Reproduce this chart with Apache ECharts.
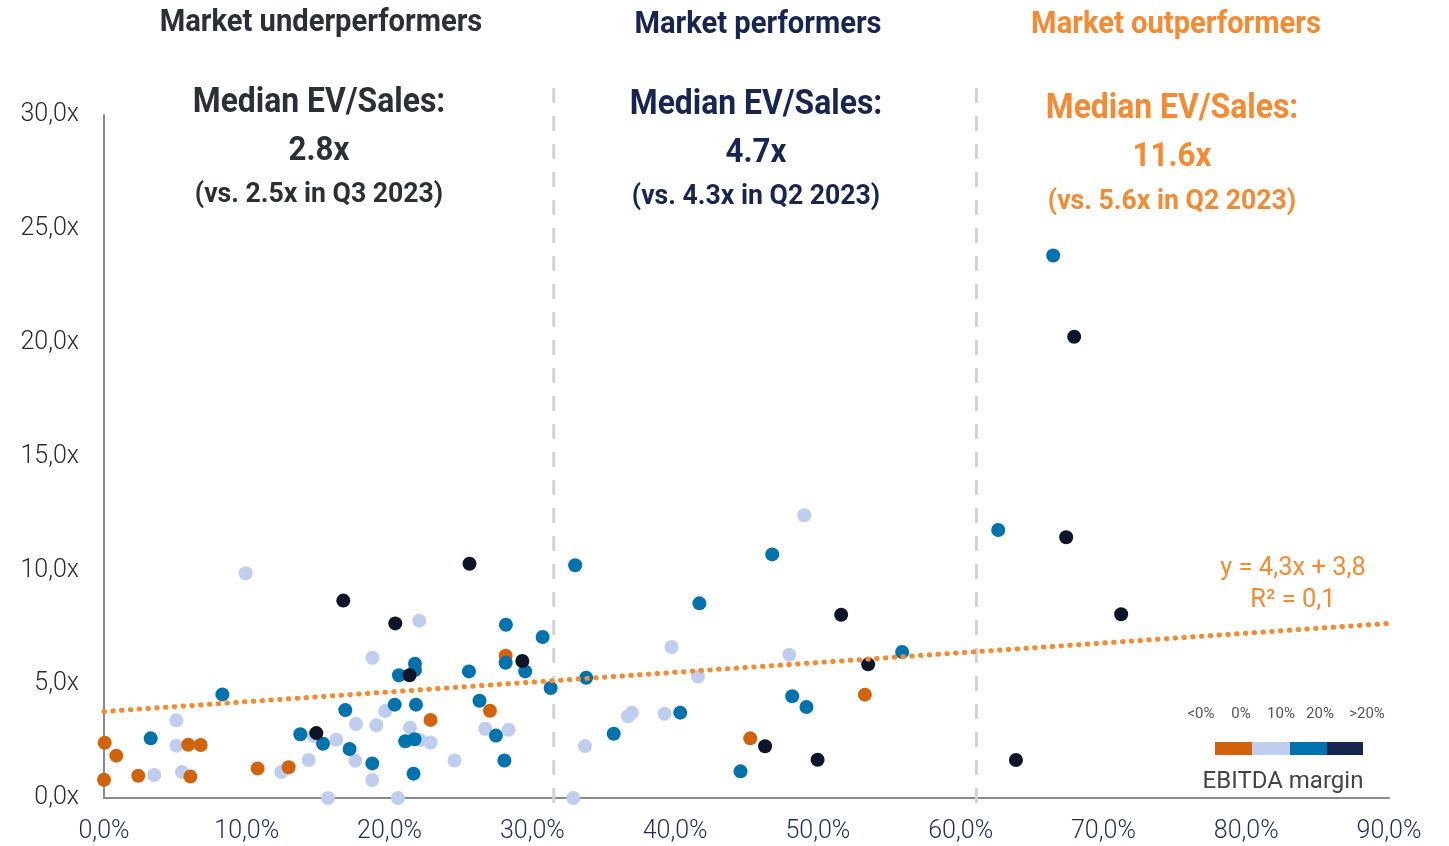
<!DOCTYPE html>
<html lang="en">
<head>
    <meta charset="UTF-8">
    <title>EV/Sales vs growth</title>
    <script src="https://cdn.jsdelivr.net/npm/echarts@6/dist/echarts.min.js"></script>
    <style>
        html, body { margin: 0; padding: 0; background: #fff; }
        #scatter { width: 1449px; height: 846px; }
    </style>
</head>
<body>
    <div id="scatter"></div>
    <script>
        // EBITDA margin groups: [growth %, EV/Sales x]
        var marginNeg = [[0.05,2.43],[0.86,1.86],[0,0.80],[2.4,0.98],[5.9,2.34],[6.77,2.33],[6.05,0.94],[10.76,1.30],[12.93,1.35],[22.87,3.43],[27.03,3.83],[28.13,6.25],[45.26,2.62],[53.29,4.54]];
        var marginLow = [[9.92,9.87],[18.8,6.16],[5.07,3.41],[19.7,3.82],[3.52,1.01],[5.07,2.30],[5.46,1.14],[12.42,1.14],[14.33,1.67],[14.7,2.72],[16.27,2.56],[17.65,3.25],[19.07,3.19],[17.6,1.64],[18.79,0.79],[15.69,0],[22.08,7.79],[21.43,3.09],[26.7,3.04],[28.34,3.00],[22.13,2.55],[22.87,2.44],[24.55,1.65],[20.59,0],[32.87,0],[49.04,12.42],[39.75,6.63],[48.0,6.29],[41.6,5.34],[36.7,3.59],[36.97,3.75],[39.26,3.70],[33.68,2.28]];
        var marginMid = [[8.29,4.55],[16.9,3.86],[3.27,2.62],[13.75,2.80],[15.34,2.38],[17.2,2.15],[18.79,1.52],[28.15,7.61],[30.72,7.07],[28.13,5.94],[29.5,5.56],[25.56,5.56],[21.78,5.90],[21.78,5.62],[20.66,5.39],[31.28,4.83],[26.3,4.27],[20.36,4.10],[21.85,4.10],[27.45,2.74],[21.1,2.49],[21.75,2.58],[28.04,1.65],[21.68,1.07],[33.0,10.22],[46.8,10.70],[41.7,8.55],[55.9,6.41],[33.77,5.28],[48.2,4.47],[49.2,4.0],[40.36,3.75],[35.7,2.82],[44.58,1.17],[66.48,23.83],[62.63,11.77]];
        var marginHigh = [[16.76,8.67],[25.6,10.29],[20.4,7.67],[29.3,6.02],[21.4,5.39],[14.87,2.85],[51.63,8.05],[53.52,5.87],[46.3,2.27],[49.98,1.68],[67.95,20.26],[67.39,11.45],[71.24,8.07],[63.87,1.67]];

        // trend line end points (y = 4,3x + 3,8)
        var trendLine = [[0, 3.8], [90, 7.67]];

        // segment borders on x (growth %)
        var segmentBorders = [31.5, 61.1];

        var legendLabels = ['<0%', '0%', '10%', '20%', '>20%'];

        var cOrange = '#d2620c', cLight = '#bfcdee', cBlue = '#0072ae', cDark = '#0e1429', cNavy = '#172550';
        var cTrend = '#f58a30';
        var font = 'Roboto';

        var chart = echarts.init(document.getElementById('scatter'));

        function dots(name, data, color) {
            return {
                name: name, type: 'scatter', data: data, symbolSize: 14,
                itemStyle: { color: color, opacity: 1 }, z: 3
            };
        }

        var option = {
            animation: false,
            textStyle: { fontFamily: font },
            grid: { left: 104, right: 60, top: 115, bottom: 48 },
            xAxis: {
                type: 'value', min: 0, max: 90, interval: 10,
                axisLine: { lineStyle: { color: '#8a8a8a', width: 2 } },
                axisTick: { show: false },
                splitLine: { show: false },
                axisLabel: {
                    color: '#1e2b5b', fontSize: 25, fontWeight: 300, margin: 21,
                    formatter: function (v) { return v.toFixed(1).replace('.', ',') + '%'; }
                }
            },
            yAxis: {
                type: 'value', min: 0, max: 30, interval: 5,
                axisLine: { show: true, lineStyle: { color: '#8a8a8a', width: 2 } },
                axisTick: { show: false },
                splitLine: { show: false },
                axisLabel: {
                    color: '#2a2a2a', fontSize: 25, fontWeight: 300, margin: 25,
                    formatter: function (v) { return v.toFixed(1).replace('.', ',') + 'x'; }
                }
            },
            series: [
                dots('0-10%', marginLow, cLight),
                dots('<0%', marginNeg, cOrange),
                dots('10-20%', marginMid, cBlue),
                dots('>20%', marginHigh, cDark),
                {
                    name: 'trend', type: 'line', data: trendLine, symbol: 'none', z: 4,
                    lineStyle: { color: cTrend, width: 5, type: [0.5, 8.3], cap: 'round' }
                }
            ]
        };
        chart.setOption(option);

        function txt(x, y, text, size, color, weight, sx) {
            return {
                type: 'text', x: x, y: y, scaleX: sx || 1,
                style: {
                    text: text, fill: color, fontSize: size, fontWeight: weight,
                    fontFamily: font, align: 'center', verticalAlign: 'middle'
                }
            };
        }

        var g = [];
        segmentBorders.forEach(function (v) {
            var px = chart.convertToPixel({ xAxisIndex: 0 }, v);
            g.push({
                type: 'line', z: 1,
                shape: { x1: px, y1: 88, x2: px, y2: 806 },
                style: { stroke: '#d3d3d3', lineWidth: 3, lineDash: [15, 13] }
            });
        });

        var cGray = '#2b3037';
        g.push(txt(321, 23, 'Market underperformers', 31, cGray, 'bold', 0.94));
        g.push(txt(758, 25, 'Market performers', 31, cNavy, 'bold', 0.94));
        g.push(txt(1176, 25, 'Market outperformers', 31, cTrend, 'bold', 0.94));

        g.push(txt(319, 103, 'Median EV/Sales:', 35, cGray, 'bold', 0.91));
        g.push(txt(319, 151, '2.8x', 34, cGray, 'bold', 0.92));
        g.push(txt(319, 195, '(vs. 2.5x in Q3 2023)', 28, cGray, 'bold', 0.95));

        g.push(txt(756, 105, 'Median EV/Sales:', 35, cNavy, 'bold', 0.91));
        g.push(txt(756, 153, '4.7x', 34, cNavy, 'bold', 0.92));
        g.push(txt(756, 197, '(vs. 4.3x in Q2 2023)', 28, cNavy, 'bold', 0.95));

        g.push(txt(1172, 109, 'Median EV/Sales:', 35, cTrend, 'bold', 0.91));
        g.push(txt(1172, 157, '11.6x', 34, cTrend, 'bold', 0.92));
        g.push(txt(1172, 202, '(vs. 5.6x in Q2 2023)', 28, cTrend, 'bold', 0.95));

        g.push(txt(1293, 568, 'y = 4,3x + 3,8', 26, cTrend, 'normal', 0.98));
        g.push(txt(1293, 600, 'R² = 0,1', 26, cTrend, 'normal', 0.98));

        // EBITDA margin key
        var labX = [1201, 1241, 1281, 1320, 1367];
        legendLabels.forEach(function (t, i) {
            g.push(txt(labX[i], 714, t, 15, '#555', 'normal', 1));
        });
        var segCols = [cOrange, cLight, cBlue, cNavy];
        var segX = [1215, 1252, 1290, 1327, 1363];
        segCols.forEach(function (c, i) {
            g.push({
                type: 'rect', shape: { x: segX[i], y: 742, width: segX[i + 1] - segX[i], height: 13 },
                style: { fill: c }
            });
        });
        g.push(txt(1283, 782, 'EBITDA margin', 24, '#444', 'normal', 1));

        chart.setOption({ graphic: g });
    </script>
</body>
</html>
